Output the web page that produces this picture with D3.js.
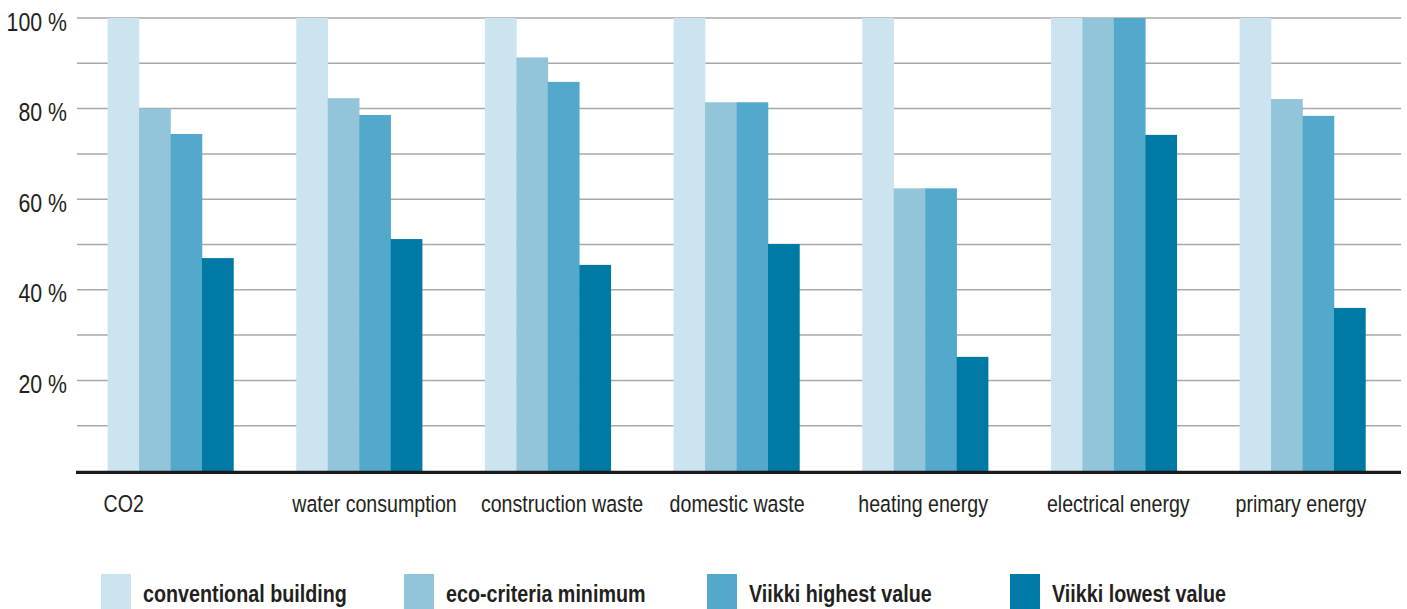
<!DOCTYPE html>
<html>
<head>
<meta charset="utf-8">
<script src="https://cdn.jsdelivr.net/npm/d3@7"></script>
<style>
  html, body { margin: 0; padding: 0; background: #fff; }
  svg { display: block; }
  text { font-family: "Liberation Sans", Arial, sans-serif; fill: #231f20; }
</style>
</head>
<body>
<svg id="chart" width="1407" height="609"></svg>
<script>
const categories = ["CO2", "water consumption", "construction waste", "domestic waste", "heating energy", "electrical energy", "primary energy"];
const seriesNames = ["conventional building", "eco-criteria minimum", "Viikki highest value", "Viikki lowest value"];
const conventional = [100, 100, 100, 100, 100, 100, 100];
const ecoMinimum   = [80, 82.3, 91.3, 81.4, 62.4, 100, 82.1];
const viikkiHigh   = [74.4, 78.6, 85.9, 81.4, 62.4, 100, 78.4];
const viikkiLow    = [47.0, 51.2, 45.5, 50.1, 25.2, 74.2, 36.0];
const yTicks = [20, 40, 60, 80, 100];
const gridTicks = [10, 20, 30, 40, 50, 60, 70, 80, 90, 100];
const colors = ["#cce4f0", "#92c4da", "#53a9cc", "#007aa5"];

const series = [conventional, ecoMinimum, viikkiHigh, viikkiLow];
const NARROW = 0.82;
const NARROW_LABEL = 0.835;
const NARROW_LEGEND = 0.84;

const svg = d3.select("#chart");
const y = d3.scaleLinear().domain([0, 100]).range([471, 18]);
const x0 = d3.scaleBand().domain(categories).range([74, 1399]).paddingInner(0.333).paddingOuter(0.178);
const x1 = d3.scaleBand().domain(d3.range(seriesNames.length)).range([0, x0.bandwidth()]);

// gridlines
svg.append("g").selectAll("line").data(gridTicks).join("line")
  .attr("x1", 77).attr("x2", 1401)
  .attr("y1", d => y(d)).attr("y2", d => y(d))
  .attr("stroke", "#a8a8a8").attr("stroke-width", 1.5);

// y tick labels via axis
const yAxis = d3.axisLeft(y).tickValues(yTicks).tickSize(0).tickPadding(0).tickFormat(d => d + " %");
const ya = svg.append("g").attr("transform", "translate(67,0)").call(yAxis);
ya.select(".domain").remove();
ya.selectAll(".tick text")
  .attr("font-size", 26).attr("fill", "#231f20")
  .attr("font-family", "\"Liberation Sans\", Arial, sans-serif")
  .attr("x", 0).attr("dy", 0).attr("y", 12)
  .attr("text-anchor", "end")
  .attr("transform", `scale(${NARROW},1)`);

// bars
const groups = svg.append("g").selectAll("g").data(categories).join("g")
  .attr("transform", d => `translate(${x0(d)},0)`);
groups.selectAll("rect").data((d, ci) => series.map((s, si) => ({si, v: s[ci]}))).join("rect")
  .attr("x", d => x1(d.si))
  .attr("width", x1.bandwidth() + 0.3)
  .attr("y", d => y(d.v))
  .attr("height", d => y(0) - y(d.v))
  .attr("fill", d => colors[d.si]);

// baseline
svg.append("line").attr("x1", 76).attr("x2", 1401).attr("y1", 472.3).attr("y2", 472.3)
  .attr("stroke", "#1a1a1a").attr("stroke-width", 3.2);

// category labels
svg.append("g").selectAll("text").data(categories).join("text")
  .attr("transform", d => `translate(${x0(d) - 4},511.5) scale(${NARROW_LABEL},1)`)
  .attr("font-size", 23.5)
  .text(d => d);

// legend
const lg = svg.append("g").selectAll("g").data(seriesNames).join("g")
  .attr("transform", (d, i) => `translate(${101 + i * 303},0)`);
lg.append("rect").attr("x", 0).attr("y", 574).attr("width", 30).attr("height", 35)
  .attr("fill", (d, i) => colors[i]);
lg.append("text")
  .attr("transform", `translate(42,602) scale(${NARROW_LEGEND},1)`)
  .attr("font-size", 23.5).attr("font-weight", "bold")
  .text(d => d);
</script>
</body>
</html>
